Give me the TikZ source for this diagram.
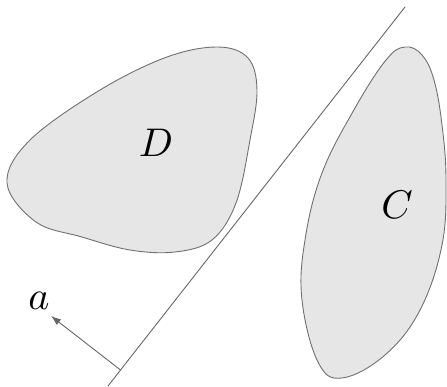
\documentclass[tikz,border=0pt]{standalone}
\usepackage{graphicx}
\usetikzlibrary{arrows.meta}
\definecolor{regfill}{HTML}{E6E6E6}
\definecolor{regline}{HTML}{707070}
\newcommand{\biglbl}[1]{\scalebox{4}{$#1$}}
\begin{document}
\begin{tikzpicture}[x=1pt,y=-1pt,
  region/.style={fill=regfill,draw=regline,line width=0.9pt},
  lbl/.style={inner sep=0pt},
  thin line/.style={draw=black!60,line width=0.9pt}]
\useasboundingbox (0,0) rectangle (447,387);
\draw[region] plot[smooth cycle,tension=0.6] coordinates {(218,47) (248,58) (257,90) (250,140) (236,203) (212,240) (175,252) (130,250) (82,237) (36,222) (7,183) (30,140) (100,90) (167,57)};
\draw[region] plot[smooth cycle,tension=0.65] coordinates {(405,47) (422,55) (434,80) (442,125) (446,180) (442,245) (420,310) (385,355) (342,378) (318,362) (302,300) (305,240) (322,173) (355,108) (386,60)};
\node[lbl] (D) at (156,143) {\biglbl{D}};
\node[lbl] (C) at (397,205) {\biglbl{C}};
\coordinate (ltop) at (405,7);
\coordinate (lbot) at (108,386);
\draw[thin line] (lbot) -- (ltop);
\coordinate (base) at (120.5,370);
\coordinate (tip) at (51,316);
\draw[thin line,-{Latex[length=10pt,width=7pt]}] (base) -- (tip);
\node[lbl] (a) at (39,301) {\biglbl{a}};
\end{tikzpicture}
\end{document}
